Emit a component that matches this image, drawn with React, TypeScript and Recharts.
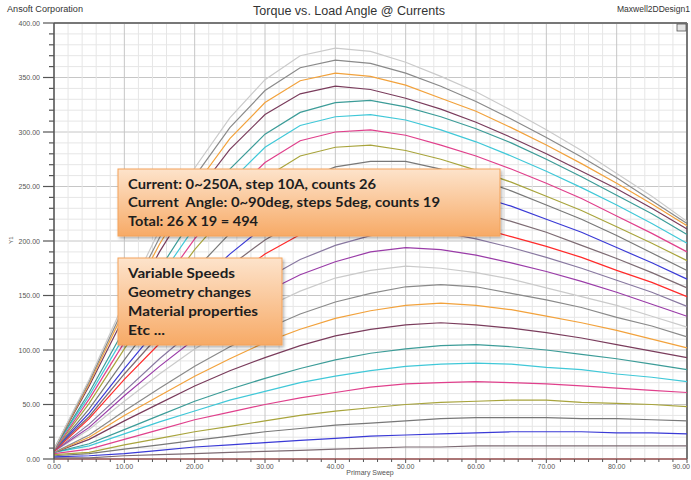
import React from "react";
import { LineChart, Line, XAxis, YAxis, CartesianGrid, ReferenceLine } from "recharts";

// load angle sweep (deg)
const loadAngle = [0, 5, 10, 15, 20, 25, 30, 35, 40, 45, 50, 55, 60, 65, 70, 75, 80, 85, 90];
// phase current (A)
const currents = [0, 10, 20, 30, 40, 50, 60, 70, 80, 90, 100, 110, 120, 130, 140, 150, 160, 170, 180, 190, 200, 210, 220, 230, 240, 250];

// torque per current
const torque000A = [0, 0, 0, 0, 0, 0, 0, 0, 0, 0, 0, 0, 0, 0, 0, 0, 0, 0, 0];
const torque010A = [1, 1, 3, 4, 5, 6, 7, 8, 9, 10, 11, 11, 12, 12, 12, 12, 12, 12, 12];
const torque020A = [2, 3, 5, 8, 11, 13, 15, 17, 19, 21, 22, 23, 24, 25, 25, 25, 24, 24, 23];
const torque030A = [3, 5, 9, 13, 17, 21, 25, 28, 31, 33, 35, 37, 38, 38, 38, 37, 37, 36, 35];
const torque040A = [4, 6, 13, 19, 25, 30, 35, 40, 44, 47, 50, 52, 53, 54, 54, 52, 51, 50, 48];
const torque050A = [5, 9, 18, 27, 36, 43, 50, 56, 61, 66, 69, 70, 71, 70, 69, 67, 65, 63, 61];
const torque060A = [6, 12, 23, 34, 44, 54, 62, 70, 76, 81, 85, 87, 88, 87, 84, 82, 78, 75, 71];
const torque070A = [6, 14, 27, 40, 53, 64, 74, 83, 91, 97, 101, 104, 105, 103, 100, 96, 92, 87, 82];
const torque080A = [6, 18, 35, 51, 67, 81, 93, 104, 113, 119, 123, 125, 123, 120, 116, 111, 105, 99, 93];
const torque090A = [6, 20, 40, 58, 76, 92, 107, 119, 129, 136, 141, 143, 141, 137, 131, 125, 118, 110, 102];
const torque100A = [6, 22, 44, 65, 85, 103, 119, 133, 144, 152, 158, 160, 158, 152, 146, 139, 130, 122, 112];
const torque110A = [7, 27, 53, 78, 101, 121, 139, 154, 166, 173, 177, 175, 171, 165, 157, 149, 141, 131, 121];
const torque120A = [7, 29, 58, 85, 110, 133, 153, 169, 181, 190, 194, 192, 187, 180, 172, 163, 153, 142, 131];
const torque130A = [7, 32, 62, 92, 119, 144, 165, 183, 196, 205, 210, 208, 202, 194, 185, 175, 164, 153, 140];
const torque140A = [7, 37, 73, 106, 138, 165, 188, 206, 218, 225, 225, 220, 213, 204, 195, 185, 173, 162, 149];
const torque150A = [8, 39, 78, 114, 147, 177, 201, 220, 234, 241, 241, 235, 227, 218, 208, 196, 184, 171, 157];
const torque160A = [8, 42, 83, 122, 157, 188, 214, 235, 249, 257, 257, 250, 242, 232, 220, 208, 194, 180, 165];
const torque170A = [8, 46, 91, 134, 173, 207, 235, 255, 268, 273, 273, 266, 257, 246, 233, 220, 205, 189, 173];
const torque180A = [8, 51, 101, 149, 192, 229, 258, 278, 286, 288, 283, 275, 265, 254, 241, 228, 213, 198, 182];
const torque190A = [8, 55, 107, 157, 202, 241, 272, 292, 300, 302, 297, 288, 278, 266, 253, 239, 223, 207, 190];
const torque200A = [9, 58, 113, 166, 213, 254, 286, 306, 314, 316, 311, 302, 291, 278, 264, 249, 233, 216, 198];
const torque210A = [9, 61, 119, 174, 224, 266, 298, 318, 327, 329, 323, 314, 303, 290, 275, 259, 242, 225, 206];
const torque220A = [9, 67, 131, 190, 242, 284, 316, 335, 342, 339, 331, 321, 309, 295, 280, 264, 248, 230, 211];
const torque230A = [9, 69, 136, 197, 250, 294, 327, 347, 354, 351, 343, 331, 319, 304, 288, 271, 253, 234, 214];
const torque240A = [9, 71, 140, 203, 259, 304, 338, 359, 366, 363, 354, 342, 328, 312, 295, 277, 258, 237, 216];
const torque250A = [9, 73, 144, 210, 267, 313, 348, 370, 377, 374, 364, 351, 337, 320, 302, 283, 262, 241, 218];

const torqueByCurrent = [
  torque000A, torque010A, torque020A, torque030A, torque040A, torque050A, torque060A,
  torque070A, torque080A, torque090A, torque100A, torque110A, torque120A, torque130A,
  torque140A, torque150A, torque160A, torque170A, torque180A, torque190A, torque200A,
  torque210A, torque220A, torque230A, torque240A, torque250A,
];

const xTicks = [0, 2, 4, 6, 8, 10, 12, 14, 16, 18, 20, 22, 24, 26, 28, 30, 32, 34, 36, 38, 40, 42, 44, 46, 48, 50, 52, 54, 56, 58, 60, 62, 64, 66, 68, 70, 72, 74, 76, 78, 80, 82, 84, 86, 88, 90];
const yTicks = [0, 10, 20, 30, 40, 50, 60, 70, 80, 90, 100, 110, 120, 130, 140, 150, 160, 170, 180, 190, 200, 210, 220, 230, 240, 250, 260, 270, 280, 290, 300, 310, 320, 330, 340, 350, 360, 370, 380, 390, 400];

// ansoft-ish trace colours, cycling
const traceColors = ["#ff2a2a", "#7d6b73", "#3a3ad6", "#787878", "#a8a43c", "#e0408c", "#40c8d8", "#3c9c98", "#7a3c5c", "#f2a23c", "#8a8a8a", "#cacaca", "#9a3ca8", "#8878a0"];

const rows = loadAngle.map((a, i) => {
  const row: any = { angle: a };
  currents.forEach((c, k) => {
    row["I" + c] = torqueByCurrent[k][i];
  });
  return row;
});

const XTick = (props: any) => {
  const { x, y, payload } = props;
  const major = payload.value % 10 === 0;
  const last = payload.value === 90;
  return (
    <g>
      <line x1={x} x2={x} y1={y} y2={y + (major ? 4 : 3)} stroke="#555" />
      {major && (
        <text x={last ? x + 3 : x} y={y + 10} textAnchor={last ? "end" : "middle"} fontSize={7} fill="#555" fontFamily="Liberation Sans, Arial">
          {payload.value.toFixed(2)}
        </text>
      )}
    </g>
  );
};

const YTick = (props: any) => {
  const { x, y, payload } = props;
  const major = payload.value % 50 === 0;
  return (
    <g>
      <line x1={x - (major ? 11 : 5)} x2={x} y1={y} y2={y} stroke="#555" strokeWidth={1.2} />
      {major && (
        <text x={x - 14} y={y + 2.5} textAnchor="end" fontSize={7} fill="#555" fontFamily="Liberation Sans, Arial">
          {payload.value.toFixed(2)}
        </text>
      )}
    </g>
  );
};

const gridLine = (p: any) => (
  <line
    key={p.key}
    x1={p.x1}
    y1={p.y1}
    x2={p.x2}
    y2={p.y2}
    stroke={p.index % 5 === 0 ? "#c6c6c6" : "#e6e6e6"}
    strokeWidth={1}
  />
);

const boxText = { fontFamily: "Lato, 'Open Sans', sans-serif", fontWeight: 700, fontSize: 12.5, fill: "#1e1e1e" };

export default function App() {
  return (
    <div style={{ position: "absolute", left: 0, top: 0, width: 691, height: 480, background: "#fff" }}>
      <LineChart width={691} height={480} data={rows} margin={{ top: 23, right: 4, bottom: 0, left: 0 }}>
        <CartesianGrid horizontal={gridLine} vertical={gridLine} />
        <XAxis
          dataKey="angle"
          type="number"
          domain={[0, 90]}
          ticks={xTicks}
          interval={0}
          tick={<XTick />}
          tickLine={false}
          tickSize={0}
          tickMargin={0}
          height={21}
          axisLine={{ stroke: "#666" }}
        />
        <YAxis
          type="number"
          domain={[0, 400]}
          ticks={yTicks}
          interval={0}
          tick={<YTick />}
          tickLine={false}
          tickSize={0}
          tickMargin={0}
          width={54}
          axisLine={{ stroke: "#555", strokeWidth: 1.5 }}
        />
        <ReferenceLine y={400} stroke="#777" strokeWidth={2} />
        <ReferenceLine x={90} stroke="#777" strokeWidth={2} />
        {currents.map((c, k) => (
          <Line
            key={c}
            dataKey={"I" + c}
            type="linear"
            stroke={traceColors[k % traceColors.length]}
            strokeWidth={1.2}
            dot={false}
            activeDot={false}
            isAnimationActive={false}
          />
        ))}
      </LineChart>
      <svg width={691} height={480} style={{ position: "absolute", left: 0, top: 0, pointerEvents: "none" }}>
        <defs>
          <linearGradient id="peach" x1="0" y1="0" x2="0" y2="1">
            <stop offset="0%" stopColor="#fde3cb" />
            <stop offset="100%" stopColor="#f7aa66" />
          </linearGradient>
          <filter id="shadow" x="-10%" y="-10%" width="120%" height="130%">
            <feDropShadow dx="1.5" dy="2" stdDeviation="1.5" floodColor="#000" floodOpacity="0.3" />
          </filter>
        </defs>
        <text x={7} y={12} fontSize={8.5} fill="#333" fontFamily="Liberation Sans, Arial" textLength={76} lengthAdjust="spacingAndGlyphs">
          Ansoft Corporation
        </text>
        <text x={253} y={15} fontSize={12} fill="#333" fontFamily="Liberation Sans, Arial" textLength={192} lengthAdjust="spacingAndGlyphs">
          Torque vs. Load Angle @ Currents
        </text>
        <text x={617} y={12} fontSize={8.5} fill="#333" fontFamily="Liberation Sans, Arial" textLength={73} lengthAdjust="spacingAndGlyphs">
          Maxwell2DDesign1
        </text>
        <rect x={677} y={24} width={9} height={7} fill="#e4e4e4" stroke="#555" strokeWidth={0.8} />
        <text x={13} y={240} fontSize={6} fill="#555" fontFamily="Liberation Sans, Arial" transform="rotate(-90 13 240)" textAnchor="middle">
          Y1
        </text>
        <text x={370} y={475} fontSize={7} fill="#555" fontFamily="Liberation Sans, Arial" textAnchor="middle">
          Primary Sweep
        </text>

        <rect x={118} y={169} width={382} height={67} fill="url(#peach)" stroke="#f3a25a" strokeWidth={1} filter="url(#shadow)" />
        <text x={128} y={189} {...boxText} textLength={248} lengthAdjust="spacingAndGlyphs">
          Current: 0~250A, step 10A, counts 26
        </text>
        <text x={128} y={207} {...boxText} style={{ whiteSpace: "pre" }} textLength={312} lengthAdjust="spacingAndGlyphs">
          {"Current  Angle: 0~90deg, steps 5deg, counts 19"}
        </text>
        <text x={128} y={226} {...boxText} textLength={130} lengthAdjust="spacingAndGlyphs">
          Total: 26 X 19 = 494
        </text>

        <rect x={118} y={258} width={164} height={87} fill="url(#peach)" stroke="#f3a25a" strokeWidth={1} filter="url(#shadow)" />
        <text x={128} y={278} {...boxText} textLength={107} lengthAdjust="spacingAndGlyphs">
          Variable Speeds
        </text>
        <text x={128} y={297} {...boxText} textLength={123} lengthAdjust="spacingAndGlyphs">
          Geometry changes
        </text>
        <text x={128} y={316} {...boxText} textLength={130} lengthAdjust="spacingAndGlyphs">
          Material properties
        </text>
        <text x={128} y={335} {...boxText} textLength={37} lengthAdjust="spacingAndGlyphs">
          Etc ...
        </text>
      </svg>
    </div>
  );
}
